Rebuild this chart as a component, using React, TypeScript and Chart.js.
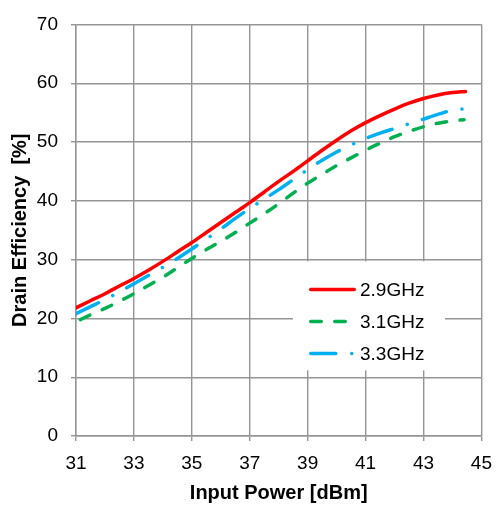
import React, { useEffect, useRef } from "react";
import { Chart, registerables } from "chart.js";

Chart.register(...registerables);

const seriesLabels = ["2.9GHz", "3.1GHz", "3.3GHz"];
const seriesColors = ["#FF0000", "#00B050", "#00B0F0"];

const x29 = [31.0, 31.5, 32.0, 32.5, 33.0, 33.5, 34.0, 34.5, 35.0, 35.5, 36.0, 36.5, 37.0, 37.5, 38.0, 38.5, 39.0, 39.5, 40.0, 40.5, 41.0, 41.5, 42.0, 42.5, 43.0, 43.5, 44.0, 44.45];
const y29 = [21.8, 23.0, 24.2, 25.5, 26.8, 28.2, 29.7, 31.3, 32.9, 34.6, 36.3, 38.0, 39.7, 41.5, 43.3, 45.0, 46.8, 48.6, 50.3, 51.9, 53.3, 54.5, 55.6, 56.6, 57.4, 58.0, 58.4, 58.6];

const x31 = [31.15, 31.5, 32.0, 32.5, 33.0, 33.5, 34.0, 34.5, 35.0, 35.5, 36.0, 36.5, 37.0, 37.5, 38.0, 38.5, 39.0, 39.5, 40.0, 40.5, 41.0, 41.5, 42.0, 42.5, 43.0, 43.5, 44.0, 44.4];
const y31 = [19.8, 20.6, 21.7, 22.9, 24.2, 25.6, 27.0, 28.6, 30.2, 31.7, 33.1, 34.6, 36.2, 37.8, 39.5, 41.3, 43.0, 44.5, 46.0, 47.3, 48.6, 49.8, 50.9, 51.8, 52.6, 53.2, 53.6, 53.8];

const x33 = [31.0, 31.5, 32.0, 32.5, 33.0, 33.5, 34.0, 34.5, 35.0, 35.5, 36.0, 36.5, 37.0, 37.5, 38.0, 38.5, 39.0, 39.5, 40.0, 40.5, 41.0, 41.5, 42.0, 42.5, 43.0, 43.5, 44.0, 44.55];
const y33 = [20.8, 22.0, 23.2, 24.5, 25.9, 27.3, 28.7, 30.2, 31.8, 33.5, 35.2, 37.0, 38.7, 40.3, 41.9, 43.6, 45.3, 46.9, 48.3, 49.5, 50.6, 51.5, 52.3, 53.1, 53.9, 54.7, 55.4, 55.7];

const xTitle = "Input Power [dBm]";
const yTitle = "Drain Efficiency  [%]";

const FONT = "'Liberation Sans', Arial, sans-serif";

const pts = (xs: number[], ys: number[]) => xs.map((x, i) => ({ x, y: ys[i] }));

const dashes: number[][] = [[], [10.5, 13.5], [25, 16, 0.01, 16]];

const legendPlugin = {
  id: "insideLegend",
  afterDraw(chart: any) {
    const { ctx, chartArea } = chart;
    const bx = chartArea.left + 217;
    const by = chartArea.top + 237;
    ctx.save();
    ctx.fillStyle = "#ffffff";
    ctx.fillRect(bx, by, 152, 109);
    const rows = [28, 60, 92];
    chart.data.datasets.forEach((ds: any, i: number) => {
      const y = by + rows[i];
      ctx.beginPath();
      ctx.strokeStyle = ds.borderColor;
      ctx.lineWidth = ds.borderWidth;
      ctx.lineCap = "round";
      ctx.setLineDash(ds.borderDash || []);
      const x0 = bx + 16 + ds.borderWidth / 2;
      ctx.moveTo(x0, y);
      ctx.lineTo(bx + 63 - ds.borderWidth / 2, y);
      ctx.stroke();
      ctx.setLineDash([]);
      ctx.fillStyle = "#000";
      ctx.font = `19px ${FONT}`;
      ctx.textBaseline = "middle";
      ctx.textAlign = "left";
      ctx.fillText(ds.label, bx + 67, y + 1);
    });
    ctx.restore();
  },
};

export default function App() {
  const ref = useRef<HTMLCanvasElement | null>(null);
  useEffect(() => {
    if (!ref.current) return;
    const data = [pts(x29, y29), pts(x31, y31), pts(x33, y33)];
    const chart = new Chart(ref.current, {
      type: "line",
      data: {
        datasets: data.map((d, i) => ({
          label: seriesLabels[i],
          data: d,
          borderColor: seriesColors[i],
          backgroundColor: seriesColors[i],
          borderWidth: 3.5,
          borderDash: dashes[i],
          borderCapStyle: "round",
          pointRadius: 0,
          cubicInterpolationMode: "monotone",
          fill: false,
        })),
      },
      plugins: [legendPlugin],
      options: {
        animation: false,
        responsive: false,
        devicePixelRatio: 1,
        layout: { padding: { top: 22, right: 13, left: 0, bottom: 0 } },
        plugins: { legend: { display: false }, tooltip: { enabled: false } },
        scales: {
          x: {
            type: "linear",
            min: 31,
            max: 45,
            ticks: { stepSize: 2, color: "#000", padding: 11, font: { size: 19, family: FONT } },
            grid: { color: "#959595", lineWidth: 1.4, tickLength: 5 },
            border: { color: "#959595", width: 1.4 },
            title: { display: true, text: xTitle, color: "#000", font: { size: 20, weight: "bold", family: FONT }, padding: { top: 0, bottom: 1 } },
            afterFit: (s: any) => { s.height = 70; },
          },
          y: {
            min: 0,
            max: 70,
            ticks: { stepSize: 10, color: "#000", padding: 13, font: { size: 19, family: FONT } },
            grid: { color: "#959595", lineWidth: 1.4, tickLength: 5 },
            border: { color: "#959595", width: 1.4 },
            title: { display: true, text: yTitle, color: "#000", font: { size: 20, weight: "bold", family: FONT }, padding: { top: 8, bottom: 0 } },
            afterFit: (s: any) => { s.width = 76; },
          },
        },
      },
    } as any);
    return () => chart.destroy();
  }, []);
  return (
    <div style={{ position: "fixed", left: 0, top: 0, width: 503, height: 506, background: "#fff" }}>
      <canvas ref={ref} width={503} height={506} style={{ width: 503, height: 506 }} />
    </div>
  );
}
